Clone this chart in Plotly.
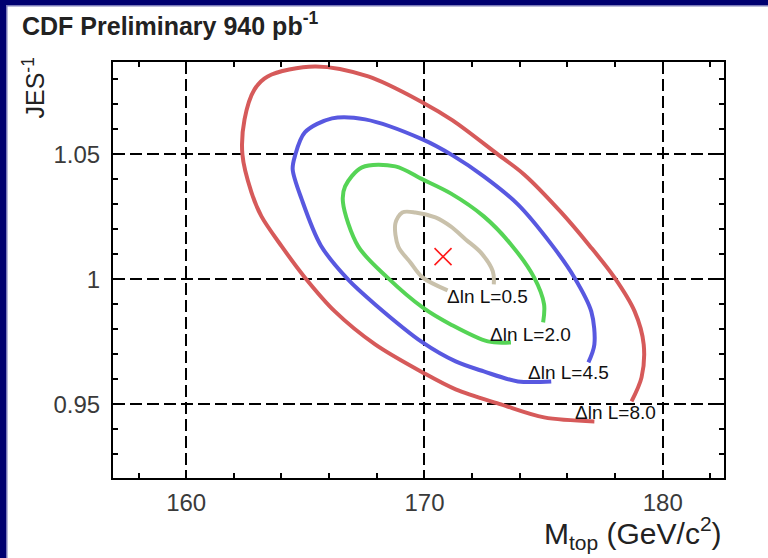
import plotly.graph_objects as go

# ---- data (M_top in GeV/c^2, JES^-1) ----
levels = ["0.5", "2.0", "4.5", "8.0"]

red_m = [178.69, 179.11, 179.20, 178.82, 177.97, 176.92, 175.74, 174.18, 173.08, 171.18,
         169.92, 167.64, 165.40, 163.42, 162.87, 162.45, 162.36, 162.74, 163.16, 164.01,
         164.98, 166.24, 167.93, 169.92, 171.31, 173.21, 175.02, 177.13]
red_jes = [0.9512, 0.9608, 0.9740, 0.9872, 1.0008, 1.0136, 1.0268, 1.0420, 1.0500, 1.0636,
           1.0708, 1.0812, 1.0852, 1.0812, 1.0760, 1.0640, 1.0500, 1.0348, 1.0252, 1.0132,
           1.0008, 0.9872, 0.9740, 0.9628, 0.9560, 0.9500, 0.9448, 0.9432]

blue_m = [176.88, 177.13, 177.00, 176.29, 175.36, 173.92, 172.49, 171.18, 169.92, 167.51,
          166.12, 164.98, 164.56, 164.47, 164.85, 165.65, 166.79, 167.93, 169.92, 171.31,
          172.49, 173.92, 175.32]
blue_jes = [0.9668, 0.9740, 0.9872, 1.0008, 1.0136, 1.0300, 1.0412, 1.0496, 1.0560, 1.0640,
            1.0644, 1.0588, 1.0492, 1.0440, 1.0320, 1.0136, 1.0000, 0.9900, 0.9748, 0.9672,
            0.9632, 0.9592, 0.9592]

green_m = [174.98, 175.02, 174.60, 173.63, 172.49, 171.10, 169.92, 168.78, 167.38, 166.67,
           166.58, 167.22, 168.44, 169.92, 171.10, 172.66, 173.63]
green_jes = [0.9828, 0.9900, 1.0008, 1.0140, 1.0252, 1.0344, 1.0400, 1.0452, 1.0448, 1.0372,
             1.0308, 1.0132, 1.0008, 0.9888, 0.9820, 0.9752, 0.9748]

tan_m = [172.91, 172.87, 172.36, 171.73, 171.10, 170.46, 169.62, 169.07, 168.78, 168.90,
         169.41, 169.92, 170.97]
tan_jes = [0.9980, 1.0032, 1.0108, 1.0160, 1.0212, 1.0248, 1.0268, 1.0268, 1.0224, 1.0132,
           1.0068, 1.0008, 0.9956]

best_m = [170.78]
best_jes = [1.0091]

label_m = [172.65, 174.45, 176.05, 178.00]
label_jes = [0.9931, 0.9779, 0.9627, 0.9467]

x_ticks = [160, 170, 180]
y_ticks = [0.95, 1.0, 1.05]
y_ticktext = ["0.95", "1", "1.05"]

# ---- figure ----
W, H = 768, 558
L, R, T, B = 113, 44, 62, 80
pw, ph = W - L - R, H - T - B

fig = go.Figure()
contours = [(tan_m, tan_jes, "#c9c1ab"), (green_m, green_jes, "#55d455"),
            (blue_m, blue_jes, "#5858e0"), (red_m, red_jes, "#d65a5a")]
for m, j, c in contours[::-1]:
    fig.add_trace(go.Scatter(x=m, y=j, mode="lines",
                             line=dict(color=c, width=4, shape="spline", smoothing=0.9),
                             hoverinfo="skip", showlegend=False))

fig.add_trace(go.Scatter(x=best_m, y=best_jes, mode="markers",
                         marker=dict(symbol="x-thin", size=17,
                                     line=dict(color="#ff1a1a", width=1.6)),
                         showlegend=False))

for lv, xm, yj in zip(levels, label_m, label_jes):
    fig.add_annotation(x=xm, y=yj, text="\u0394ln L=" + lv, showarrow=False,
                       font=dict(family="Liberation Sans", size=19, color="#111111"),
                       xanchor="center", yanchor="middle")

axis_common = dict(showline=True, linecolor="black", linewidth=2, mirror="ticks",
                   ticks="inside", ticklen=8, tickwidth=2, tickcolor="black",
                   showgrid=True, gridcolor="black", gridwidth=2, griddash="12px,5px",
                   zeroline=False,
                   tickfont=dict(family="Liberation Sans", size=24, color="#3a3a3a"))

fig.update_xaxes(range=[156.93, 182.57], tickvals=x_ticks,
                 minor=dict(dtick=2, tick0=0, ticks="inside", ticklen=5, tickwidth=2,
                            tickcolor="black", showgrid=False),
                 ticklabelstandoff=2, **axis_common)
fig.update_yaxes(range=[0.92056, 1.08696], tickvals=y_ticks, ticktext=y_ticktext,
                 minor=dict(dtick=0.01, tick0=0, ticks="inside", ticklen=5, tickwidth=2,
                            tickcolor="black", showgrid=False),
                 ticklabelstandoff=6, **axis_common)

# navy frame on left and top edges
def px_x(p):
    return (p - L) / pw

def px_y(p):
    return (H - B - p) / ph

fig.add_shape(type="rect", xref="paper", yref="paper", x0=px_x(6), x1=px_x(7.5),
              y0=px_y(H), y1=px_y(5), fillcolor="#7a7ab8", line_width=0, layer="above")
fig.add_shape(type="rect", xref="paper", yref="paper", x0=px_x(6), x1=px_x(W),
              y0=px_y(6.5), y1=px_y(5), fillcolor="#7a7ab8", line_width=0, layer="above")
fig.add_shape(type="rect", xref="paper", yref="paper", x0=px_x(0), x1=px_x(6),
              y0=px_y(H), y1=px_y(0), fillcolor="#000070", line_width=0, layer="above")
fig.add_shape(type="rect", xref="paper", yref="paper", x0=px_x(0), x1=px_x(W),
              y0=px_y(5), y1=px_y(0), fillcolor="#000070", line_width=0, layer="above")

fig.add_annotation(xref="paper", yref="paper", x=px_x(20), y=px_y(24),
                   text="<b>CDF Preliminary 940 pb<sup>-1</sup></b>", showarrow=False,
                   xanchor="left", yanchor="middle",
                   font=dict(family="Liberation Sans", size=25, color="#222222"))
fig.add_annotation(xref="paper", yref="paper", x=px_x(33), y=px_y(56),
                   text="JES<sup>-1</sup>", showarrow=False, textangle=-90,
                   xanchor="center", yanchor="top",
                   font=dict(family="Liberation Sans", size=25, color="#222222"))
fig.add_annotation(xref="paper", yref="paper", x=px_x(724), y=px_y(533),
                   text="M<sub>top</sub> (GeV/c<sup>2</sup>)", showarrow=False,
                   xanchor="right", yanchor="middle",
                   font=dict(family="Liberation Sans", size=30, color="#222222"))

fig.update_layout(width=W, height=H, margin=dict(l=L, r=R, t=T, b=B),
                  paper_bgcolor="white", plot_bgcolor="white")

fig.write_html("out.html")
